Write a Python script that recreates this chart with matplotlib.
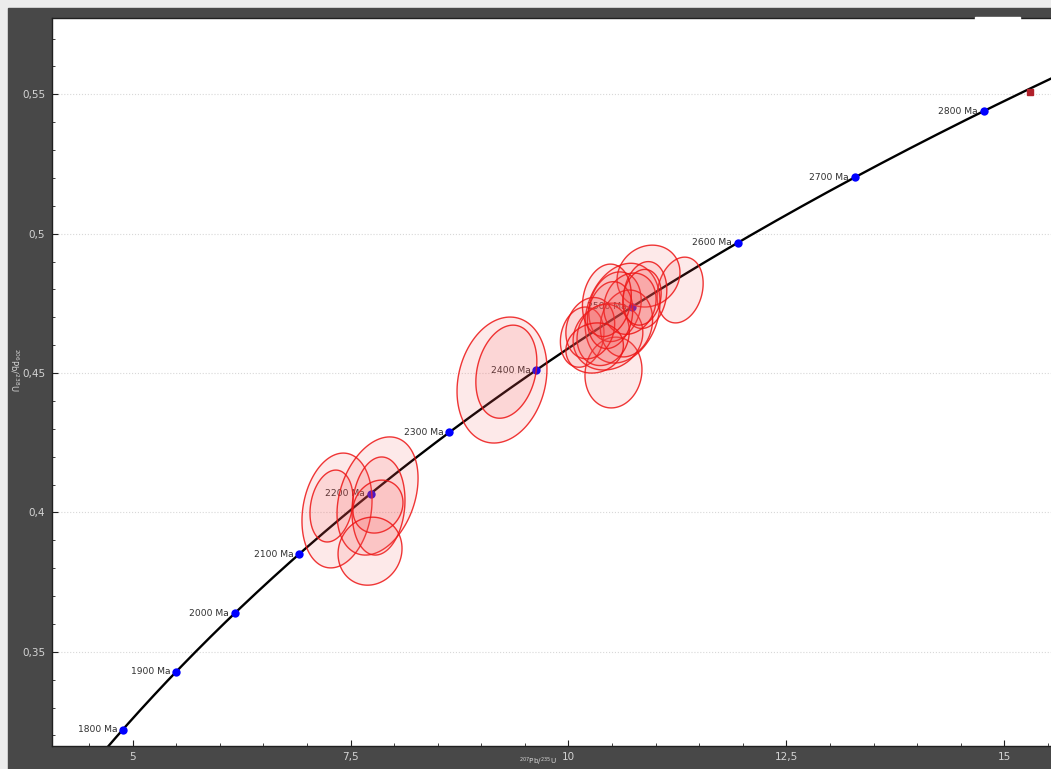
import numpy as np
import matplotlib
matplotlib.use("Agg")
import matplotlib.pyplot as plt
from matplotlib.patches import Rectangle
from matplotlib.ticker import MultipleLocator, FuncFormatter

# ── Decay constants (1/yr) and concordia age markers ──────────────────
LAMBDA_238 = 1.55125e-10
LAMBDA_235 = 9.8485e-10
ages_ma = [1800, 1900, 2000, 2100, 2200, 2300, 2400, 2500, 2600, 2700, 2800]

# ── Spot analyses: 207Pb/235U, 206Pb/238U, 2-sigma errors, error correlation ──
ell_x = [7.344, 7.281, 7.809, 7.820, 7.814, 7.723,
         9.237, 9.287,
         11.281, 10.918, 10.516, 10.157, 10.620, 10.453, 10.534,
         10.878, 10.665, 10.398, 10.250, 10.705, 10.477, 10.843,
         10.440, 10.300]
ell_sx = [0.402, 0.247, 0.465, 0.304, 0.287, 0.367,
          0.516, 0.350,
          0.264, 0.361, 0.327, 0.250, 0.430, 0.400, 0.300,
          0.250, 0.300, 0.300, 0.280, 0.300, 0.260, 0.220,
          0.280, 0.330]
ell_y = [0.4007, 0.4023, 0.4059, 0.4023, 0.4021, 0.3861,
         0.4475, 0.4505,
         0.4798, 0.4848, 0.4502, 0.4629, 0.4715, 0.4631, 0.4738,
         0.4780, 0.4678, 0.4637, 0.4661, 0.4749, 0.4708, 0.4772,
         0.4761, 0.4590]
ell_sy = [0.0206, 0.0129, 0.0212, 0.0176, 0.0095, 0.0122,
          0.0226, 0.0167,
          0.0118, 0.0111, 0.0127, 0.0108, 0.0179, 0.0120, 0.0125,
          0.0120, 0.0120, 0.0110, 0.0110, 0.0110, 0.0120, 0.0100,
          0.0130, 0.0090]
ell_rho = [0.18, 0.20, 0.30, 0.12, 0.15, 0.08,
           0.18, 0.22,
           0.20, 0.12, 0.08, 0.15, 0.22, 0.12, 0.18,
           0.15, 0.12, 0.12, 0.15, 0.15, 0.15, 0.15,
           0.15, 0.10]


def concordia(t_ma):
    t = np.asarray(t_ma) * 1e6
    return np.exp(LAMBDA_235 * t) - 1, np.exp(LAMBDA_238 * t) - 1


def comma(v, pos):
    return f"{v:g}".replace(".", ",")


W, H = 1051, 769
fig = plt.figure(figsize=(W / 100, H / 100), dpi=100, facecolor="#ececec")
fig.patches.append(Rectangle((8 / W, 0), 1 - 8 / W, 1 - 8 / H,
                             transform=fig.transFigure, color="#484848", zorder=-5))

ax = fig.add_axes([52 / W, (H - 746) / H, 1 - 52 / W, (746 - 18) / H])
ax.set_zorder(1)
ax.set_facecolor("white")
ax.set_xlim(4.074, 15.536)
ax.set_ylim(0.3162, 0.5774)

# concordia curve
t_curve = np.linspace(1700, 2950, 400)
cx, cy = concordia(t_curve)
ax.plot(cx, cy, color="black", lw=1.7, zorder=2)

# age markers with labels
mx, my = concordia(ages_ma)
ax.plot(mx, my, "o", color="#0000ff", ms=6, mec="none", zorder=3)
for age, x, y in zip(ages_ma, mx, my):
    ax.annotate(f"{age} Ma", (x, y), xytext=(-4, 0), textcoords="offset points",
                ha="right", va="center", fontsize=6.6, color="#303030", zorder=3)

# error ellipses
t = np.linspace(0, 2 * np.pi, 120)
for x0, sx, y0, sy, rho in zip(ell_x, ell_sx, ell_y, ell_sy, ell_rho):
    ex = x0 + sx * np.cos(t)
    ey = y0 + sy * (rho * np.cos(t) + np.sqrt(1 - rho ** 2) * np.sin(t))
    ax.fill(ex, ey, facecolor=(0.96, 0.3, 0.3, 0.12),
            edgecolor=(0.93, 0.08, 0.08, 0.85), lw=1.0, zorder=4)

# stray marker at the top-right corner
ax.plot([15.30], [0.5508], marker="s", ms=5, color="#b0202a", zorder=5)

# axes styling
ax.xaxis.set_major_locator(MultipleLocator(2.5))
ax.xaxis.set_minor_locator(MultipleLocator(0.5))
ax.yaxis.set_major_locator(MultipleLocator(0.05))
ax.yaxis.set_minor_locator(MultipleLocator(0.01))
ax.xaxis.set_major_formatter(FuncFormatter(comma))
ax.yaxis.set_major_formatter(FuncFormatter(comma))
ax.tick_params(which="both", direction="in", color="#202020", top=False, right=False)
ax.tick_params(which="major", length=4, width=0.8, labelsize=7.5,
               labelcolor="#d4d4d4", pad=5)
ax.tick_params(axis="x", which="major", pad=4)
ax.tick_params(which="minor", length=2.5, width=0.6)
ax.grid(axis="y", which="major", color="#d8d8d8", linestyle=":", lw=0.8, zorder=1)
for side in ["left", "bottom", "top"]:
    ax.spines[side].set_color("#202020")
    ax.spines[side].set_linewidth(1.0)
ax.spines["right"].set_visible(False)

# axis titles
fig.text(14 / W, 1 - 370 / H, r"$^{206}$Pb/$^{238}$U", rotation=270,
         ha="center", va="center", fontsize=6, color="#d4d4d4")
fig.text(538 / W, 0.5 / H, r"$^{207}$Pb/$^{235}$U",
         ha="center", va="bottom", fontsize=5.2, color="#d4d4d4")

fig.patches.append(Rectangle((975 / W, 1 - 21 / H), 45 / W, 4 / H,
                             transform=fig.transFigure, color="white", zorder=10))

fig.savefig("out.png", dpi=100, facecolor=fig.get_facecolor())
